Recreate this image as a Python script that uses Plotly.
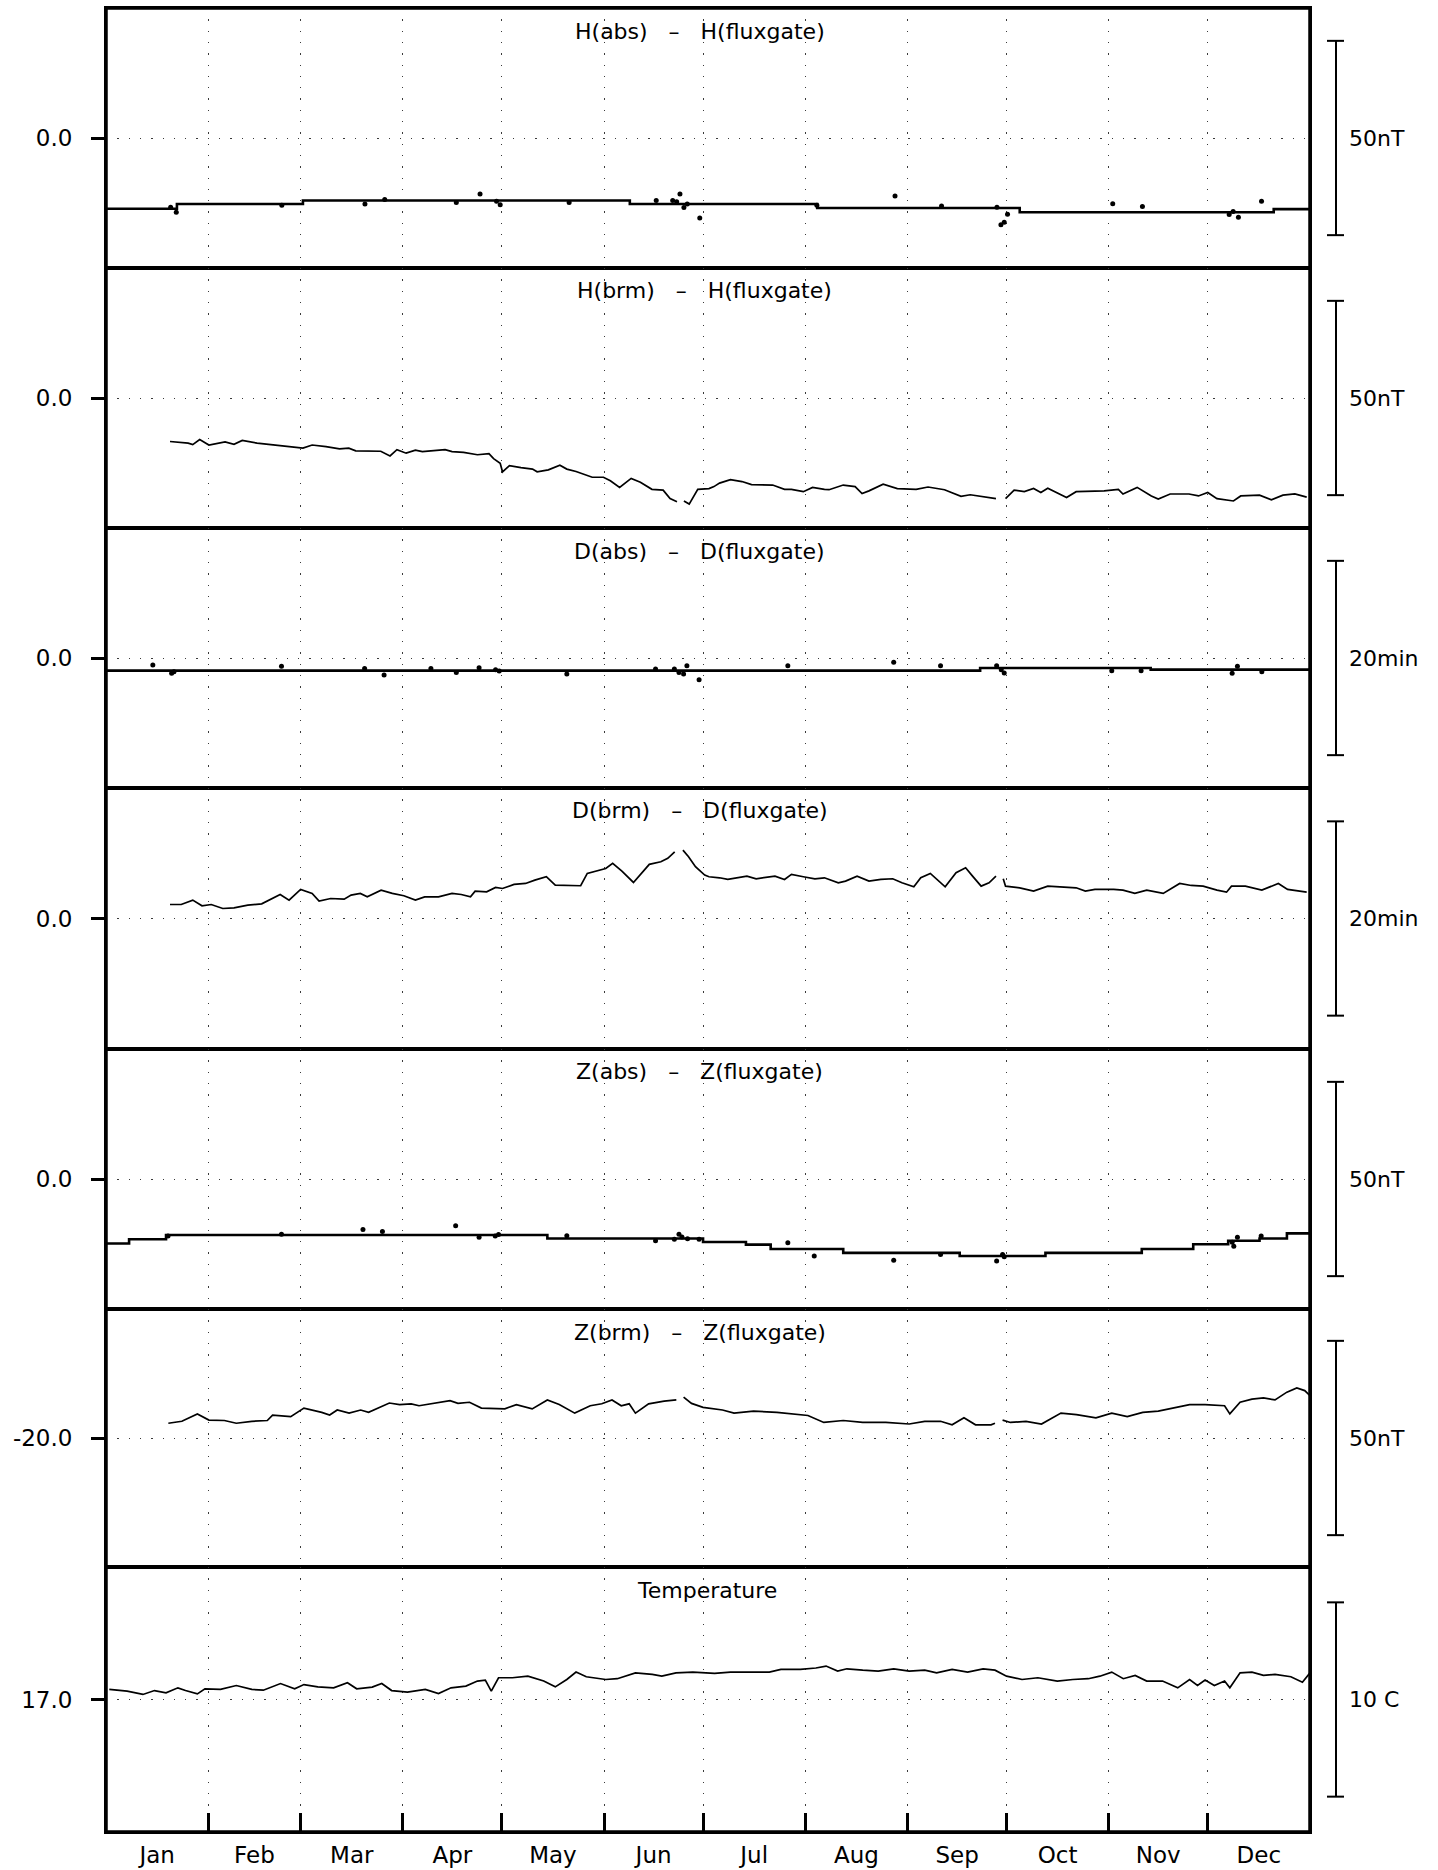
import plotly.graph_objects as go

# ---------------- time axis (day of year) ----------------
month_names = ["Jan", "Feb", "Mar", "Apr", "May", "Jun",
               "Jul", "Aug", "Sep", "Oct", "Nov", "Dec"]
month_start = [0, 31, 59, 90, 120, 151, 181, 212, 243, 273, 304, 334]
year_end = 365

# ---------------- panel descriptions ----------------
panel_titles = ["H(abs)   \u2013   H(fluxgate)", "H(brm)   \u2013   H(fluxgate)",
                "D(abs)   \u2013   D(fluxgate)", "D(brm)   \u2013   D(fluxgate)",
                "Z(abs)   \u2013   Z(fluxgate)", "Z(brm)   \u2013   Z(fluxgate)",
                "Temperature"]
panel_center = [0.0, 0.0, 0.0, 0.0, 0.0, -20.0, 17.0]
center_label = ["0.0", "0.0", "0.0", "0.0", "0.0", "-20.0", "17.0"]
scale_len = [50, 50, 20, 20, 50, 50, 10]
scale_text = ["50nT", "50nT", "20min", "20min", "50nT", "50nT", "10 C"]

# ---------------- H(abs) - H(fluxgate) ----------------
habs_base_day = [0, 21.5, 59.7, 158.8, 215.6, 277.0, 354.0, 365]
habs_base_val = [-18.2, -17.0, -16.1, -17.0, -18.0, -19.1, -18.3, -18.3]
habs_dot_day = [19.6, 21.3, 53.3, 78.5, 84.5, 106.2, 113.4, 118.4, 119.5, 140.4,
                166.8, 171.8, 173.0, 174.0, 175.2, 176.2, 180.0, 215.5, 239.2, 253.3,
                270.1, 271.3, 272.3, 273.3, 305.2, 314.2, 340.5, 341.7, 343.3, 350.3]
habs_dot_val = [-17.8, -19.1, -17.3, -17.0, -15.8, -16.6, -14.4, -16.3, -17.2, -16.6,
                -16.1, -16.1, -16.4, -14.4, -17.9, -17.0, -20.6, -17.3, -14.9, -17.5,
                -17.8, -22.3, -21.7, -19.6, -16.9, -17.6, -19.7, -18.9, -20.4, -16.3]

# ---------------- H(brm) - H(fluxgate) ----------------
hbrm_day = [19.4, 22.1, 24.9, 26.3, 28.4, 31.2, 36.1, 38.8, 41.3, 45.8, 51.4, 56.9,
            59.7, 62.5, 66.7, 70.8, 73.6, 75.7, 79.2, 83.3, 86.1, 88.2, 91.0, 93.8,
            95.9, 102.8, 104.9, 108.4, 112.6, 116.1, 117.5, 119.5, 120.2, 122.3, 125.8,
            129.3, 130.7, 134.1, 137.6, 139.7, 142.5, 147.4, 150.8, 152.9, 155.7, 159.2,
            162.0, 165.5, 168.9, 171.0, 173.1, 174.2, 175.2, 176.8, 179.4, 182.8, 184.3,
            186.0, 189.3, 192.8, 195.7, 202.1, 205.7, 207.8, 211.4, 214.2, 217.8, 219.2,
            223.5, 227.1, 229.2, 231.3, 235.6, 239.9, 245.6, 249.2, 254.2, 259.2, 262.0,
            264.9, 269.8, 271.2, 272.7, 275.3, 278.4, 281.2, 283.4, 285.5, 291.2, 294.1,
            302.6, 306.9, 308.3, 312.6, 316.9, 319.0, 322.6, 328.3, 331.2, 334.0, 336.8,
            341.8, 344.0, 349.7, 353.3, 356.8, 360.4, 364.0]
hbrm_val = [-11.2, -11.4, -11.6, -12.0, -10.7, -12.1, -11.3, -11.9, -10.9, -11.6, -12.1, -12.5,
            -12.9, -12.1, -12.5, -13.1, -12.9, -13.6, -13.7, -13.7, -14.9, -13.3, -14.2, -13.4,
            -13.8, -13.3, -13.8, -14.0, -14.6, -14.3, -15.6, -16.8, -19.0, -17.4, -17.9,
            -18.3, -19.0, -18.5, -17.3, -18.3, -18.9, -20.4, -20.4, -21.3, -23.0, -20.7,
            -21.7, -23.5, -23.7, -25.9, -26.7, None, -26.5, -27.3, -23.5, -23.3, -22.8,
            -21.9, -21.0, -21.5, -22.3, -22.4, -23.5, -23.5, -24.1, -23.0, -23.5, -23.6,
            -22.4, -22.8, -24.6, -23.9, -22.2, -23.3, -23.5, -22.9, -23.6, -25.3, -24.9,
            -25.3, -25.9, None, -25.9, -23.7, -24.1, -23.3, -24.3, -23.2, -25.6, -24.1,
            -23.9, -23.5, -24.7, -23.0, -25.2, -26.0, -24.7, -24.7, -25.2, -24.3, -25.9,
            -26.5, -25.2, -25.0, -26.2, -25.0, -24.7, -25.5]

# ---------------- D(abs) - D(fluxgate) ----------------
dabs_base_day = [0, 265.0, 316.7, 365]
dabs_base_val = [-1.3, -1.03, -1.2, -1.2]
dabs_dot_day = [14.2, 19.9, 20.6, 53.2, 78.4, 84.3, 98.5, 106.2, 113.1, 118.1,
                119.2, 139.7, 166.6, 172.3, 173.7, 175.1, 176.1, 179.8, 206.7, 238.8,
                253.0, 270.0, 271.4, 272.3, 304.9, 313.8, 341.4, 343.0, 350.4]
dabs_dot_val = [-0.72, -1.58, -1.41, -0.86, -1.07, -1.75, -1.07, -1.48, -1.0, -1.2,
                -1.34, -1.65, -1.13, -1.13, -1.48, -1.65, -0.79, -2.23, -0.79, -0.45,
                -0.79, -0.79, -1.2, -1.55, -1.3, -1.3, -1.58, -0.86, -1.41]

# ---------------- D(brm) - D(fluxgate) ----------------
dbrm_day = [19.4, 22.8, 26.3, 29.1, 31.9, 35.4, 38.8, 43.0, 47.2, 52.8, 55.5, 59.0,
            62.5, 64.6, 68.1, 72.2, 74.3, 77.1, 79.2, 83.4, 86.8, 90.3, 93.8, 96.6,
            100.8, 104.9, 107.7, 110.5, 111.9, 115.4, 118.1, 120.2, 123.7, 127.2, 130.0,
            133.5, 136.2, 138.3, 141.8, 143.9, 145.9, 148.7, 151.5, 153.6, 156.4, 159.9,
            161.9, 164.7, 168.2, 170.3, 172.4, 173.6, 174.9, 176.6, 178.7, 181.5, 182.8,
            186.0, 188.5, 194.3, 197.1, 202.8, 205.7, 207.8, 211.4, 214.9, 217.8, 222.0,
            224.2, 227.7, 231.3, 234.9, 238.5, 241.3, 244.9, 247.0, 249.9, 252.0, 254.4,
            257.7, 260.6, 262.7, 265.3, 267.7, 269.8, 270.9, 272.0, 272.7, 277.0, 281.2,
            285.5, 289.8, 294.1, 296.9, 299.8, 305.5, 308.3, 311.9, 315.5, 320.5, 325.5,
            329.0, 332.6, 336.8, 339.7, 341.2, 345.4, 350.4, 355.4, 358.2, 364.0]
dbrm_val = [1.44, 1.44, 1.89, 1.31, 1.44, 1.03, 1.10, 1.37, 1.51, 2.47, 1.89, 2.99,
            2.58, 1.79, 2.06, 1.99, 2.41, 2.58, 2.23, 2.92, 2.58, 2.34, 1.89, 2.23,
            2.23, 2.58, 2.47, 2.23, 2.82, 2.75, 3.20, 3.09, 3.51, 3.61, 3.95,
            4.30, 3.44, 3.44, 3.37, 3.37, 4.64, 4.88, 5.15, 5.67, 4.88, 3.71,
            4.47, 5.57, 5.84, 6.19, 6.87, None, 7.04, 6.36, 5.33, 4.47, 4.30,
            4.19, 4.02, 4.36, 4.09, 4.36, 4.02, 4.54, 4.30, 4.09, 4.19, 3.68,
            3.85, 4.36, 3.85, 4.02, 4.09, 3.68, 3.26, 4.19, 4.64, 4.02, 3.26,
            4.71, 5.22, 4.36, 3.33, 3.68, 4.36, None, 4.09, 3.33, 3.16, 2.82,
            3.33, 3.26, 3.16, 2.82, 2.99, 2.99, 2.92, 2.58, 2.92, 2.58, 3.61,
            3.40, 3.33, 2.92, 2.71, 3.33, 3.33, 2.92, 3.61, 2.99, 2.71]

# ---------------- Z(abs) - Z(fluxgate) ----------------
zabs_base_day = [0, 7.0, 18.2, 133.8, 181.0, 194.0, 201.5, 223.5, 258.8, 284.8,
                 314.0, 329.6, 340.2, 349.7, 358.0, 365]
zabs_base_val = [-16.6, -15.5, -14.4, -15.3, -16.2, -16.9, -18.0, -19.0, -19.8, -19.0,
                 -18.0, -16.8, -15.9, -15.3, -14.0, -14.0]
zabs_dot_day = [18.8, 53.2, 77.9, 83.8, 106.0, 113.1, 118.0, 119.0, 139.7, 166.6,
                172.3, 173.7, 174.6, 176.3, 179.8, 206.7, 214.7, 238.8, 253.0, 270.0,
                271.8, 272.3, 341.4, 341.9, 343.0, 350.2]
zabs_dot_val = [-14.7, -14.2, -13.0, -13.5, -12.0, -15.0, -14.7, -14.3, -14.6, -15.9,
                -15.5, -14.2, -14.9, -15.4, -15.5, -16.4, -19.8, -20.9, -19.4, -21.1,
                -19.4, -20.0, -16.3, -17.3, -15.0, -14.7]

# ---------------- Z(brm) - Z(fluxgate) ----------------
zbrm_day = [18.9, 23.0, 27.7, 31.2, 35.9, 39.5, 44.2, 48.9, 50.5, 56.0, 60.0, 65.4,
            67.8, 70.1, 73.7, 77.2, 79.6, 83.1, 85.9, 89.0, 92.5, 94.9, 99.6, 104.3,
            106.7, 110.2, 113.8, 118.5, 120.9, 124.4, 129.2, 133.8, 137.4, 142.1, 146.8,
            150.3, 153.4, 156.2, 158.6, 160.5, 164.5, 169.2, 172.9, 174.0, 175.1, 177.5,
            181.0, 186.9, 190.4, 196.3, 203.4, 208.1, 212.8, 217.6, 223.5, 229.4, 236.4,
            243.5, 248.2, 253.0, 256.5, 260.1, 263.6, 268.3, 269.5, 270.7, 271.8, 274.2,
            278.9, 283.6, 289.5, 294.2, 300.1, 304.9, 309.6, 314.3, 319.0, 323.7, 328.5,
            333.2, 339.1, 340.7, 343.8, 347.4, 350.9, 354.4, 358.0, 361.0, 363.4, 365.0]
zbrm_val = [-16.2, -15.7, -13.8, -15.4, -15.5, -16.2, -15.7, -15.5, -14.1, -14.5, -12.3, -13.4,
            -14.1, -12.8, -13.6, -12.8, -13.4, -12.1, -11.0, -11.4, -11.2, -11.7, -11.1, -10.4,
            -11.1, -10.8, -12.3, -12.5, -12.5, -11.4, -12.5, -10.2, -11.4, -13.6, -11.7,
            -11.2, -10.2, -11.7, -11.2, -13.6, -11.2, -10.5, -10.2, None, -9.5, -11.1,
            -12.1, -12.8, -13.6, -13.1, -13.4, -13.8, -14.2, -16.0, -15.5, -16.0, -16.0,
            -16.4, -15.7, -15.7, -16.6, -14.8, -16.6, -16.6, -16.2, None, -15.4, -16.0,
            -15.7, -16.4, -13.6, -14.0, -14.8, -13.6, -14.5, -13.4, -13.1, -12.3, -11.4,
            -11.4, -11.7, -13.8, -10.8, -10.0, -9.7, -10.2, -8.2, -7.1, -7.8, -9.1]

# ---------------- Temperature ----------------
temp_day = [1.0, 6.4, 11.2, 14.7, 18.2, 21.8, 24.1, 27.7, 30.0, 34.7, 39.5, 44.2,
            47.7, 52.9, 57.2, 60.0, 64.2, 69.0, 73.2, 76.0, 80.7, 83.6, 86.6, 91.4,
            96.8, 100.8, 104.6, 109.1, 112.6, 115.0, 116.8, 119.0, 123.2, 127.9, 132.7,
            136.2, 139.7, 142.5, 145.6, 151.5, 155.0, 160.5, 165.6, 168.5, 172.8, 177.9,
            184.5, 189.3, 195.2, 201.1, 204.6, 210.5, 215.2, 218.3, 221.8, 224.6, 229.4,
            234.1, 238.8, 243.5, 248.2, 251.8, 256.5, 261.2, 265.9, 269.5, 273.0, 277.7,
            282.5, 288.4, 293.1, 297.8, 301.3, 304.9, 308.4, 312.0, 315.5, 320.3, 324.9,
            328.5, 330.9, 333.2, 336.0, 339.1, 340.7, 343.8, 347.4, 350.9, 354.4, 359.2,
            362.7, 365.0]
temp_val = [17.52, 17.43, 17.26, 17.46, 17.34, 17.60, 17.46, 17.29, 17.55, 17.52, 17.72, 17.52,
            17.48, 17.82, 17.55, 17.77, 17.65, 17.60, 17.86, 17.55, 17.64, 17.82, 17.46, 17.38,
            17.52, 17.31, 17.60, 17.69, 17.95, 18.00, 17.43, 18.12, 18.12, 18.20, 17.95,
            17.65, 18.03, 18.41, 18.17, 18.03, 18.07, 18.37, 18.29, 18.20, 18.37, 18.41,
            18.34, 18.41, 18.41, 18.41, 18.55, 18.55, 18.62, 18.72, 18.46, 18.58, 18.51,
            18.46, 18.58, 18.46, 18.51, 18.37, 18.55, 18.41, 18.58, 18.51, 18.20, 18.03,
            18.12, 17.95, 18.03, 18.07, 18.20, 18.41, 18.07, 18.24, 17.95, 17.95, 17.60,
            18.03, 17.72, 18.00, 17.72, 17.95, 17.60, 18.37, 18.41, 18.24, 18.29, 18.17,
            17.89, 18.37]

# ---------------- figure geometry ----------------
W, H = 1438, 1870
M_L, M_R, M_T, M_B = 106, 128, 8, 38
plot_h = H - M_T - M_B
plot_w = W - M_L - M_R
# panel borders in pixels from the top of the page
borders = [8, 268, 528, 788, 1049, 1309, 1567, 1832]
px_per_unit = [3.886, 3.886, 9.715, 9.715, 3.886, 3.886, 19.43]
title_x = [0.493, 0.497, 0.493, 0.493, 0.493, 0.493, 0.499]


def yfrac(px):
    return (H - M_B - px) / plot_h


def xfrac(px):
    return (px - M_L) / plot_w


FONT = "DejaVu Sans"
GRID = dict(gridcolor="#3a3a3a", gridwidth=1.3, griddash="1.3px,10px")

fig = go.Figure()

line_black = dict(color="black", width=1.7)
base_line = dict(color="black", width=2.6, shape="hv")
dot_marker = dict(color="black", size=5, symbol="circle")

traces = [
    (1, go.Scatter(x=habs_base_day, y=habs_base_val, mode="lines", line=base_line)),
    (1, go.Scatter(x=habs_dot_day, y=habs_dot_val, mode="markers", marker=dot_marker)),
    (2, go.Scatter(x=hbrm_day, y=hbrm_val, mode="lines", line=line_black)),
    (3, go.Scatter(x=dabs_base_day, y=dabs_base_val, mode="lines", line=base_line)),
    (3, go.Scatter(x=dabs_dot_day, y=dabs_dot_val, mode="markers", marker=dot_marker)),
    (4, go.Scatter(x=dbrm_day, y=dbrm_val, mode="lines", line=line_black)),
    (5, go.Scatter(x=zabs_base_day, y=zabs_base_val, mode="lines", line=base_line)),
    (5, go.Scatter(x=zabs_dot_day, y=zabs_dot_val, mode="markers", marker=dot_marker)),
    (6, go.Scatter(x=zbrm_day, y=zbrm_val, mode="lines", line=line_black)),
    (7, go.Scatter(x=temp_day, y=temp_val, mode="lines", line=line_black)),
]
for i, tr in traces:
    suffix = "" if i == 1 else str(i)
    tr.update(xaxis="x" + suffix, yaxis="y" + suffix, showlegend=False,
              hoverinfo="skip")
    fig.add_trace(tr)

month_mid = [(a + b) / 2 for a, b in zip(month_start, month_start[1:] + [year_end])]

layout = dict(
    width=W, height=H,
    margin=dict(l=M_L, r=M_R, t=M_T, b=M_B, autoexpand=False),
    paper_bgcolor="white", plot_bgcolor="white",
    font=dict(family=FONT, color="black", size=22),
    showlegend=False,
)

shapes = []
annotations = []
for k in range(7):
    i = k + 1
    suffix = "" if i == 1 else str(i)
    top_px, bot_px = borders[k], borders[k + 1]
    c = panel_center[k]
    # data range so that the panel centre sits mid-panel
    half_up = (((top_px + bot_px) / 2) - top_px) / px_per_unit[k]
    half_dn = (bot_px - ((top_px + bot_px) / 2)) / px_per_unit[k]
    last = (i == 7)
    layout["xaxis" + suffix] = dict(
        domain=[0, 1], anchor="y" + suffix, range=[0, year_end],
        automargin=False,
        showline=True, mirror=True, linecolor="black", linewidth=2,
        zeroline=False, showgrid=False,
        tickmode="array", tickvals=month_mid, ticktext=month_names,
        ticks="", showticklabels=last,
        tickfont=dict(size=23, family=FONT),
        ticklabelstandoff=1,
        minor=dict(tickmode="array", tickvals=month_start[1:], showgrid=True,
                   ticks="inside" if last else "", ticklen=19, tickwidth=3,
                   tickcolor="black", **GRID),
    )
    if i > 1:
        layout["xaxis" + suffix]["matches"] = "x"
    layout["yaxis" + suffix] = dict(
        domain=[yfrac(bot_px), yfrac(top_px)], anchor="x" + suffix,
        range=[c - half_dn, c + half_up],
        automargin=False,
        showline=True, mirror=True, linecolor="black", linewidth=2,
        zeroline=False, showgrid=True, **GRID,
        tickmode="array", tickvals=[c], ticktext=[center_label[k]],
        ticks="outside", ticklen=13, tickwidth=3, tickcolor="black",
        tickfont=dict(size=23, family=FONT), ticklabelstandoff=14,
    )

    # scale bar at the right-hand side
    yref = "y" + suffix
    bx = xfrac(1336)
    cap0, cap1 = xfrac(1327), xfrac(1344)
    lo, hi = c - scale_len[k] / 2, c + scale_len[k] / 2
    bar = dict(color="black", width=2)
    shapes.append(dict(type="line", xref="paper", yref=yref, x0=bx, x1=bx,
                       y0=lo, y1=hi, line=bar))
    shapes.append(dict(type="line", xref="paper", yref=yref, x0=cap0, x1=cap1,
                       y0=lo, y1=lo, line=bar))
    shapes.append(dict(type="line", xref="paper", yref=yref, x0=cap0, x1=cap1,
                       y0=hi, y1=hi, line=bar))
    annotations.append(dict(text=scale_text[k], xref="paper", yref=yref,
                            x=xfrac(1347), y=c, xanchor="left", yanchor="middle",
                            showarrow=False, font=dict(size=22, family=FONT)))
    # panel title
    annotations.append(dict(text=panel_titles[k], xref="paper", yref="paper",
                            x=title_x[k], y=yfrac(top_px + 23), xanchor="center",
                            yanchor="middle", showarrow=False,
                            font=dict(size=22, family=FONT)))

# heavy outer frame
shapes.append(dict(type="rect", xref="paper", yref="paper", x0=0, x1=1, y0=0, y1=1,
                   line=dict(color="black", width=3.5)))

layout["shapes"] = shapes
layout["annotations"] = annotations
fig.update_layout(**layout)

fig.write_html("out.html")
